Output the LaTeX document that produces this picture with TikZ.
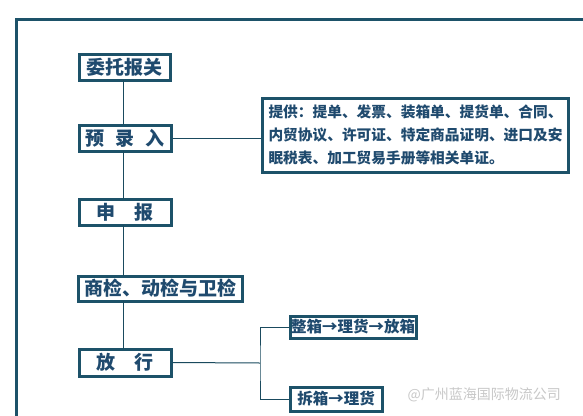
\documentclass[tikz,border=0pt]{standalone}
\usepackage{fontspec}
\newfontfamily\cjk{Noto Sans CJK SC}
\definecolor{frame}{HTML}{1D5269}
\definecolor{txt}{HTML}{1F4A6E}
\definecolor{wm}{HTML}{C8C8C8}
\begin{document}
\begin{tikzpicture}[x=1pt,y=-1pt,
  box/.style={draw=frame,line width=3pt,fill=white,text=txt,inner sep=0pt,
    font=\cjk\bfseries\fontsize{19}{21}\selectfont},
  small/.style={box,font=\cjk\bfseries\fontsize{15.5}{17}\selectfont},
  link/.style={draw=frame!90!black,line width=1pt}]
\useasboundingbox (0,0) rectangle (583,415);
\clip (0,0) rectangle (583,415);
\fill[white] (0,0) rectangle (583,415);
\draw[frame,line width=3pt] (16,19) rectangle (600,430);
\node[box,minimum width=91pt,minimum height=26pt] (n1) at (124.5,67) {委托报关};
\node[box,minimum width=92pt,minimum height=26pt] (n2) at (125,138) {预\hspace{11pt}录\hspace{11pt}入};
\node[box,minimum width=92pt,minimum height=26pt] (n3) at (125,212) {申\hspace{19pt}报};
\node[box,minimum width=164pt,minimum height=25pt] (n4) at (160,288.5) {商检、动检与卫检};
\node[box,minimum width=92pt,minimum height=27pt] (n5) at (125,362.5) {放\hspace{19pt}行};
\node[box,minimum width=306pt,minimum height=74pt,align=left,anchor=west,inner xsep=3pt,
  font=\cjk\bfseries\fontsize{14.7}{23}\selectfont] (info) at (261,135)
  {提供：提单、发票、装箱单、提货单、合同、\\内贸协议、许可证、特定商品证明、进口及安\\眠税表、加工贸易手册等相关单证。};
\node[small,minimum width=126pt,minimum height=22pt] (b1) at (353,327) {整箱→理货→放箱};
\node[small,minimum width=92pt,minimum height=24pt] (b2) at (336,399) {拆箱→理货};
\coordinate (j) at (260,363);
\draw[link] (123,80) -- (123,125);
\draw[link] (123,151) -- (123,199);
\draw[link] (123,225) -- (123,276);
\draw[link] (123,301) -- (123,349);
\draw[link] (n2.east) -- (n2.east -| info.west);
\draw[link] (n5.east) -- (j);
\draw[link] (b1.west) -| (j) |- (b2.west);
\node[text=wm,font=\cjk\fontsize{14}{16}\selectfont,anchor=west] (wmk) at (404,395) {@广州蓝海国际物流公司};
\end{tikzpicture}
\end{document}
